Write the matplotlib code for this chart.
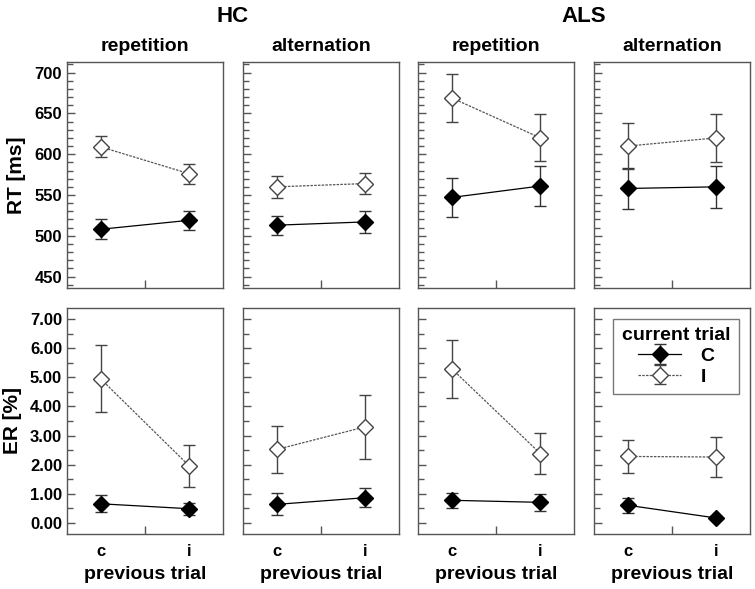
import matplotlib
matplotlib.use("Agg")
import matplotlib.pyplot as plt
from matplotlib.ticker import MultipleLocator, FixedLocator, NullFormatter
import numpy as np

plt.rcParams['font.family'] = ['Liberation Sans', 'DejaVu Sans']
plt.rcParams['font.weight'] = 'bold'

groups = ["HC", "ALS"]
conditions = ["repetition", "alternation"]
prev_trial = ["c", "i"]

# RT [ms] : panel order HC-rep, HC-alt, ALS-rep, ALS-alt
rt_C = [[508, 519], [513, 517], [547, 561], [558, 560]]
rt_C_err = [[12, 11.7], [11.7, 13], [23.7, 24.6], [24.6, 25.8]]
rt_I = [[609, 576], [560, 564], [669, 620], [610, 620]]
rt_I_err = [[13, 12], [13.5, 13], [29, 28.7], [28, 29]]

# ER [%]
er_C = [[0.65, 0.48], [0.63, 0.86], [0.77, 0.70], [0.60, 0.16]]
er_C_err = [[0.29, 0.20], [0.38, 0.33], [0.25, 0.30], [0.25, 0.06]]
er_I = [[4.95, 1.95], [2.52, 3.30], [5.30, 2.38], [2.28, 2.26]]
er_I_err = [[1.15, 0.71], [0.80, 1.10], [1.00, 0.71], [0.58, 0.70]]

W, H = 755, 589
fig = plt.figure(figsize=(W / 100, H / 100), dpi=100)

lefts = [67, 243, 418, 594]
pw = 156
rows = [(62, 288), (308, 534)]

frame_col = "#555555"
x = np.array([1, 2])

axes = []
for r, (top, bot) in enumerate(rows):
    row_axes = []
    for p, l in enumerate(lefts):
        ax = fig.add_axes([l / W, 1 - bot / H, pw / W, (bot - top) / H])
        row_axes.append(ax)
    axes.append(row_axes)

def style(ax, first, bottom_row):
    for s in ax.spines.values():
        s.set_color(frame_col)
        s.set_linewidth(1.0)
    ax.set_xlim(0.62, 2.38)
    ax.xaxis.set_major_locator(FixedLocator([1.5]))
    ax.xaxis.set_major_formatter(NullFormatter())
    ax.tick_params(axis='x', which='major', direction='in', length=6, color=frame_col, width=1)
    if bottom_row:
        ax.xaxis.set_minor_locator(FixedLocator([1, 2]))
        ax.set_xticklabels(prev_trial, minor=True)
        ax.tick_params(axis='x', which='minor', length=0, pad=7, labelsize=12)
        ax.set_xlabel("previous trial", fontsize=14, fontweight='bold', labelpad=5)
    ax.tick_params(axis='y', which='both', direction='in', color=frame_col, width=1, labelsize=12, right=False)
    ax.tick_params(axis='y', which='major', length=6)
    ax.tick_params(axis='y', which='minor', length=4)
    if not first:
        ax.yaxis.set_major_formatter(NullFormatter())

ms = 8.5
for p in range(4):
    # RT row
    ax = axes[0][p]
    ax.errorbar(x, rt_C[p], yerr=rt_C_err[p], color='black', ecolor='#333333', elinewidth=1,
                capsize=4, capthick=1, linestyle='-', linewidth=0.9, marker='D', markersize=ms,
                markerfacecolor='black', markeredgecolor='black', label='C', zorder=3)
    ax.errorbar(x, rt_I[p], yerr=rt_I_err[p], color='#555555', ecolor='#444444', elinewidth=1,
                capsize=4, capthick=1, linestyle=(0, (2, 1)), linewidth=0.9, marker='D', markersize=ms,
                markerfacecolor='white', markeredgecolor='#444444', label='I', zorder=3)
    ax.set_ylim(436, 713)
    ax.yaxis.set_major_locator(MultipleLocator(50))
    ax.yaxis.set_minor_locator(MultipleLocator(10))
    style(ax, p == 0, False)
    if p == 0:
        ax.set_ylabel("RT [ms]", fontsize=15, fontweight='bold', labelpad=6)
    ax.set_title(conditions[p % 2], fontsize=14, fontweight='bold', pad=8)

    # ER row
    ax = axes[1][p]
    hC = ax.errorbar(x, er_C[p], yerr=er_C_err[p], color='black', ecolor='#333333', elinewidth=1,
                     capsize=4, capthick=1, linestyle='-', linewidth=0.9, marker='D', markersize=ms,
                     markerfacecolor='black', markeredgecolor='black', label='C', zorder=3)
    hI = ax.errorbar(x, er_I[p], yerr=er_I_err[p], color='#555555', ecolor='#444444', elinewidth=1,
                     capsize=4, capthick=1, linestyle=(0, (2, 1)), linewidth=0.9, marker='D', markersize=ms,
                     markerfacecolor='white', markeredgecolor='#444444', label='I', zorder=3)
    ax.set_ylim(-0.39, 7.39)
    ax.yaxis.set_major_locator(MultipleLocator(1))
    ax.yaxis.set_minor_locator(MultipleLocator(0.5))
    ax.yaxis.set_major_formatter(matplotlib.ticker.FormatStrFormatter('%.2f'))
    style(ax, p == 0, True)
    if p == 0:
        ax.set_ylabel("ER [%]", fontsize=15, fontweight='bold', labelpad=6)
    if p == 3:
        leg = ax.legend(handles=[hC, hI], labels=['C', 'I'], title='current trial', loc='upper right',
                        fontsize=14, title_fontsize=14, frameon=True, fancybox=False,
                        handlelength=2.2, borderpad=0.45, labelspacing=0.15, handletextpad=1.0,
                        borderaxespad=0.55, alignment='center')
        leg.get_frame().set_edgecolor(frame_col)
        leg.get_frame().set_linewidth(1.0)
        leg.get_title().set_fontweight('bold')

# group titles
for g, name in enumerate(groups):
    cx = (lefts[2 * g] + lefts[2 * g + 1] + pw) / 2
    fig.text(cx / W, 1 - 17 / H, name, ha='center', va='center', fontsize=16, fontweight='bold')

fig.savefig("out.png", dpi=100)
